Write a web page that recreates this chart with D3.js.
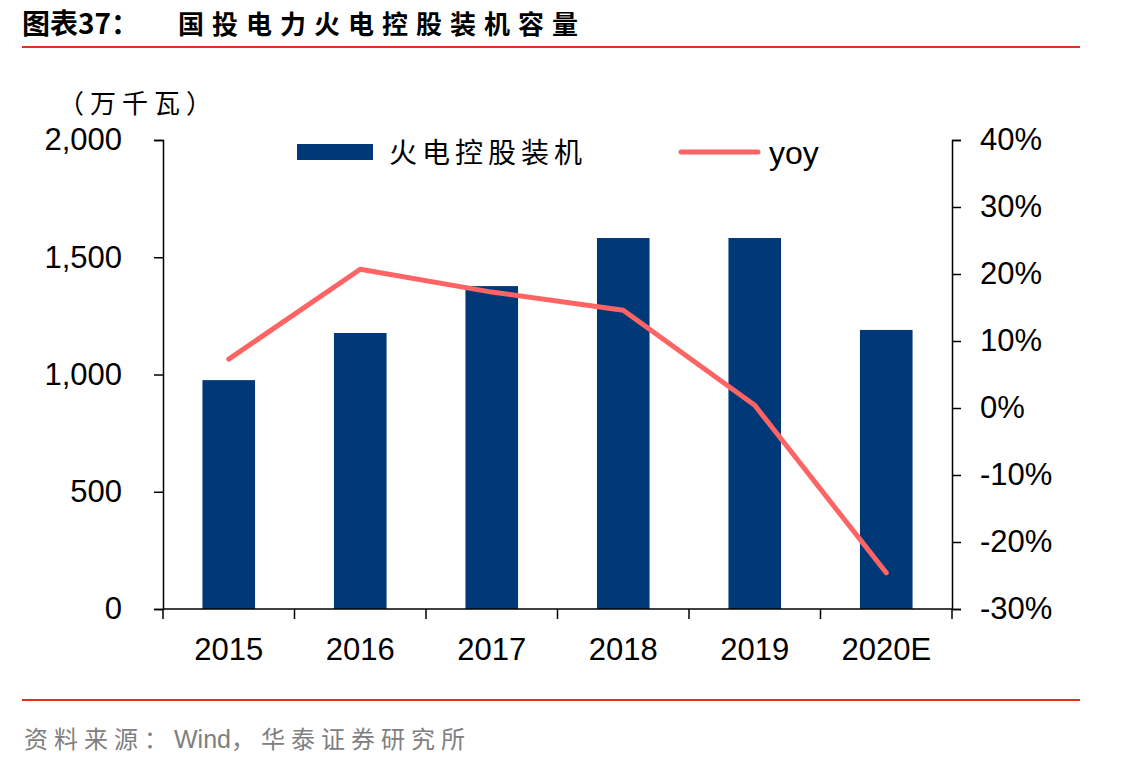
<!DOCTYPE html>
<html>
<head>
<meta charset="utf-8">
<script src="https://cdn.jsdelivr.net/npm/d3@7"></script>
<style>
  body { margin: 0; background: #fff; }
  svg text { font-family: "Liberation Sans", Arial, sans-serif; }
  .cjk { font-family: "Noto Sans CJK SC", sans-serif; }
</style>
</head>
<body>
<div id="chart"></div>
<script>
// chart data
var years = ["2015", "2016", "2017", "2018", "2019", "2020E"];
var capacity = [976, 1177, 1377, 1582, 1582, 1190];
var yoy = [7.3, 20.7, 17.3, 14.6, 0.4, -24.6];
var leftTicks = [0, 500, 1000, 1500, 2000];
var rightTicks = [-30, -20, -10, 0, 10, 20, 30, 40];

var svgWidth = 1137;
var svgHeight = 768;

var plot = { left: 163, right: 952, top: 140, bottom: 609 };

var svg = d3.select("#chart")
  .append("svg")
  .attr("width", svgWidth)
  .attr("height", svgHeight);

// title + rules
svg.append("text")
  .attr("class", "cjk")
  .attr("x", 22)
  .attr("y", 34)
  .style("font-size", "28px")
  .style("font-weight", "bold")
  .text("图表37：");

svg.append("text")
  .attr("class", "cjk")
  .attr("x", 178)
  .attr("y", 34)
  .style("font-size", "26px")
  .style("font-weight", "bold")
  .style("letter-spacing", "8px")
  .text("国投电力火电控股装机容量");

svg.append("line")
  .attr("x1", 22).attr("x2", 1080)
  .attr("y1", 47).attr("y2", 47)
  .attr("stroke", "#e62e1e")
  .attr("stroke-width", 2);

svg.append("line")
  .attr("x1", 22).attr("x2", 1080)
  .attr("y1", 700).attr("y2", 700)
  .attr("stroke", "#e62e1e")
  .attr("stroke-width", 2);

var src = svg.append("text")
  .attr("class", "cjk")
  .attr("x", 24)
  .attr("y", 748)
  .style("font-size", "24px")
  .attr("fill", "#808080");
src.append("tspan").style("letter-spacing", "6px").text("资料来源：");
src.append("tspan").style("font-family", "Liberation Sans, Arial, sans-serif").style("font-size", "25px").text("Wind");
src.append("tspan").style("letter-spacing", "6px").text("，华泰证券研究所");

// unit
svg.append("text")
  .attr("class", "cjk")
  .attr("x", 58)
  .attr("y", 113)
  .style("font-size", "26px")
  .style("letter-spacing", "6px")
  .text("（万千瓦）");

// scales
var xScale = d3.scaleBand()
  .domain(years)
  .range([plot.left, plot.right])
  .paddingInner(0.6)
  .paddingOuter(0.3);

var xPoint = d3.scalePoint()
  .domain(years)
  .range([plot.left, plot.right])
  .padding(0.5);

var yLeft = d3.scaleLinear()
  .domain([0, 2000])
  .range([plot.bottom, plot.top]);

var yRight = d3.scaleLinear()
  .domain([-30, 40])
  .range([plot.bottom, plot.top]);

// bars
svg.selectAll("rect.bar")
  .data(capacity)
  .enter()
  .append("rect")
  .attr("class", "bar")
  .attr("x", (d, i) => xScale(years[i]))
  .attr("width", xScale.bandwidth())
  .attr("y", d => yLeft(d))
  .attr("height", d => yLeft(0) - yLeft(d))
  .attr("fill", "#003878");

// left axis
var leftAxis = d3.axisLeft(yLeft)
  .tickValues(leftTicks)
  .tickSize(9)
  .tickPadding(32)
  .tickFormat(d3.format(","));

var gLeft = svg.append("g")
  .attr("transform", `translate(${plot.left},0)`)
  .call(leftAxis);

// right axis
var rightAxis = d3.axisRight(yRight)
  .tickValues(rightTicks)
  .tickSize(9)
  .tickPadding(19)
  .tickFormat(d => d + "%");

var gRight = svg.append("g")
  .attr("transform", `translate(${plot.right},0)`)
  .call(rightAxis);

// bottom axis: ticks at category boundaries
var boundaries = d3.range(years.length + 1).map(i => plot.left + i * (plot.right - plot.left) / years.length);

var gBottom = svg.append("g")
  .attr("transform", `translate(0,${plot.bottom})`);

gBottom.append("line")
  .attr("x1", plot.left).attr("x2", plot.right)
  .attr("stroke", "#000").attr("stroke-width", 1.5);

gBottom.selectAll("line.tick")
  .data(boundaries)
  .enter()
  .append("line")
  .attr("class", "tick")
  .attr("x1", d => d).attr("x2", d => d)
  .attr("y1", 0).attr("y2", 10)
  .attr("stroke", "#000").attr("stroke-width", 1.5);

gBottom.selectAll("text")
  .data(years)
  .enter()
  .append("text")
  .attr("x", d => xPoint(d))
  .attr("y", 51)
  .attr("text-anchor", "middle")
  .style("font-size", "31px")
  .text(d => d);

[gLeft, gRight].forEach(g => {
  g.select(".domain").attr("stroke-width", 1.5);
  g.selectAll(".tick line").attr("stroke-width", 1.5);
  g.selectAll(".tick text")
    .style("font-size", "31px")
    .attr("fill", "#000");
});

// yoy line
var line = d3.line()
  .x((d, i) => xPoint(years[i]))
  .y(d => yRight(d));

svg.append("path")
  .datum(yoy)
  .attr("d", line)
  .attr("fill", "none")
  .attr("stroke", "#ff6464")
  .attr("stroke-width", 5)
  .attr("stroke-linecap", "round")
  .attr("stroke-linejoin", "round");

// legend
svg.append("rect")
  .attr("x", 297).attr("y", 144)
  .attr("width", 76).attr("height", 16)
  .attr("fill", "#003878");

svg.append("text")
  .attr("class", "cjk")
  .attr("x", 389)
  .attr("y", 163)
  .style("font-size", "28px")
  .style("letter-spacing", "5px")
  .text("火电控股装机");

svg.append("line")
  .attr("x1", 681).attr("x2", 758)
  .attr("y1", 152).attr("y2", 152)
  .attr("stroke", "#ff6464")
  .attr("stroke-width", 5)
  .attr("stroke-linecap", "round");

svg.append("text")
  .attr("x", 769)
  .attr("y", 164)
  .style("font-size", "32px")
  .text("yoy");
</script>
</body>
</html>
